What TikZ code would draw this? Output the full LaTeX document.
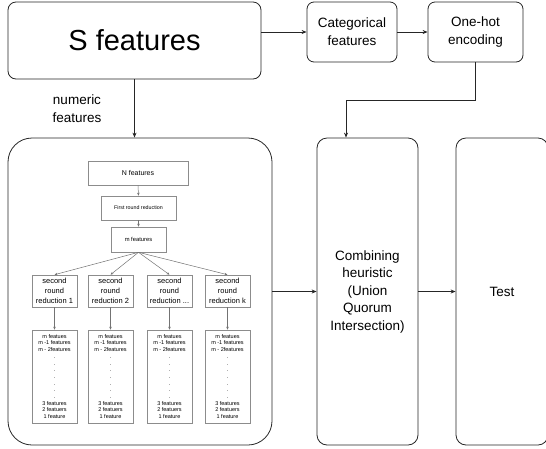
\documentclass[tikz,border=0pt]{standalone}
\usepackage{fontspec}
\setmainfont{Liberation Sans}
\usetikzlibrary{arrows.meta}
\newcommand{\fs}[2]{\fontsize{#1}{#2}\selectfont}

\begin{document}
\begin{tikzpicture}[x=1pt, y=-1pt, >={Stealth[length=5pt, width=4pt]},
        outerbox/.style={draw=black!85, line width=0.8pt, align=center, inner sep=0pt},
        innerbox/.style={draw=black!45, line width=0.6pt, align=center, inner sep=0pt},
        innerline/.style={->, black!55, line width=0.5pt, >={Stealth[length=3pt, width=2.5pt]}}]

                    \useasboundingbox (0, 0) rectangle (546, 448);

                    % top row
                    \node [outerbox, rounded corners=8pt, minimum width=253, minimum height=77,
                        font=\fs{29}{34}] (sfeat) at (134.5, 40.5) {S features};
                    \node [outerbox, rounded corners=7pt, minimum width=90, minimum height=60,
                        font=\fs{13.5}{18}] (cat) at (352, 32) {Categorical\\features};
                    \node [outerbox, rounded corners=7pt, minimum width=95, minimum height=60,
                        font=\fs{13.5}{18}] (onehot) at (475.5, 32) {One-hot\\encoding};

                    \draw [->, black!85, line width=0.8pt] (sfeat.east |- cat.west) -- (cat.west);
                    \draw [->, black!85, line width=0.8pt] (cat.east) -- (onehot.west);

                    % lower row
                    \node [outerbox, rounded corners=24pt, minimum width=264, minimum height=307]
                        (reduce) at (140, 291.5) {};
                    \node [outerbox, rounded corners=10pt, minimum width=101, minimum height=307,
                        font=\fs{13.5}{17.5}] (comb) at (367.5, 291.5)
                        {Combining\\heuristic\\(Union\\Quorum\\Intersection)};
                    \node [outerbox, rounded corners=10pt, minimum width=92, minimum height=307,
                        font=\fs{13.5}{17.5}] (test) at (502, 291.5) {Test};

                    \node [align=center, font=\fs{13.5}{18}] (numlab) at (77, 109) {numeric\\features};
                    \coordinate (bend) at (346, 100);

                    \draw [->, black!85, line width=0.8pt] (sfeat.south) -- (sfeat.south |- reduce.north);
                    \draw [->, black!85, line width=0.8pt] (onehot.south) |- (bend) -- (bend |- comb.north);
                    \draw [->, black!85, line width=0.8pt] (reduce.east) -- (comb.west);
                    \draw [->, black!85, line width=0.8pt] (comb.east) -- (test.west);

                    % inside the reduction box
                    \node [innerbox, minimum width=100, minimum height=24, font=\fs{7}{8}]
                        (nfeat) at (138, 173) {N features};
                    \node [innerbox, minimum width=75, minimum height=24, font=\fs{5.3}{6}]
                        (first) at (138.5, 208) {First round reduction};
                    \node [innerbox, minimum width=55, minimum height=25, font=\fs{5.8}{7}]
                        (mfeat) at (138.5, 239.5) {m features};
                    \draw [innerline] (nfeat.south) -- (first.north);
                    \draw [innerline] (first.south) -- (mfeat.north);

                    \foreach \x/\k/\name in {54.5/1/1, 110.5/2/2, 169.5/3/{...}, 227.5/4/k} {
                        \node [innerbox, minimum width=45, minimum height=32, font=\fs{7.5}{10}]
                            (second\k) at (\x, 291) {second\\round\\reduction \name};
                        \node [innerbox, minimum width=45, minimum height=93, font=\fs{5.5}{6.7}]
                            (list\k) at (\x, 376.5)
                            {m featues\\m -1 features\\m - 2features\\.\\.\\.\\.\\.\\.\\.\\3 features\\2 featuers\\1 feature};
                        \draw [innerline] (mfeat.south) -- (second\k.north);
                        \draw [innerline] (second\k.south) -- (list\k.north);
                    }
                \end{tikzpicture}
\end{document}
